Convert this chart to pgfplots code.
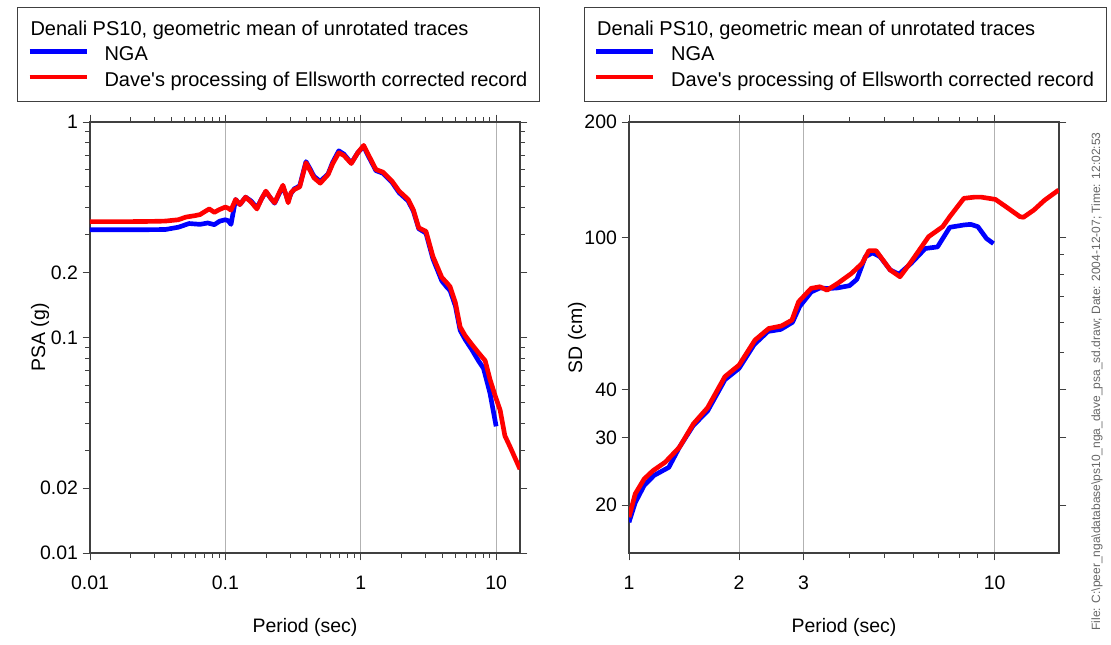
\documentclass[border=0pt]{standalone}
\usepackage{fontspec}
\setmainfont{Liberation Sans}
\usepackage{pgfplots}
\pgfplotsset{compat=1.18}

\newcommand{\fsz}{\fontsize{14.6}{17}\selectfont}
\newcommand{\lfs}{\fontsize{15}{17}\selectfont}
\newcommand{\lst}{\rule[-5pt]{0pt}{13.15pt}}
\definecolor{axgray}{gray}{0.25}
\definecolor{nga}{RGB}{0,0,255}
\definecolor{dave}{RGB}{255,0,0}

\pgfplotsset{
  legend image code/.code={\draw[#1] (0pt,2.5pt) -- (42.75pt,2.5pt);},
  rsframe/.style={
    scale only axis, width=322.5pt, height=323.25pt,
    tick align=outside,
    major tick length=5.5pt, minor tick length=3.5pt,
    every tick/.style={axgray, line width=0.7pt},
    axis line style={axgray, line width=0.9pt},
    xmajorgrids, major grid style={black!30, line width=0.6pt},
    tick label style={font=\fsz},
    xticklabel style={yshift=-8pt},
    label style={font=\fsz},
    xlabel={Period (sec)},
    xlabel style={at={(axis description cs:0.5,-0.172)}, anchor=center},
    legend cell align=left,
    legend style={anchor=north west, draw=axgray, line width=0.8pt,
      font=\lfs, inner xsep=7pt, inner ysep=8pt, row sep=2.9pt,
      column sep=9.75pt},
  },
}

\begin{document}
\begin{tikzpicture}
\useasboundingbox (0,0) rectangle (833.25pt,483pt);

% PSA
\begin{axis}[rsframe, xmode=log, ymode=log,
  at={(67.5pt,68.25pt)}, anchor=south west,
  xmin=0.01, xmax=15, ymin=0.01, ymax=1,
  xtick={0.01,0.1,1,10}, xticklabels={0.01,0.1,1,10},
  ytick={0.01,0.02,0.1,0.2,1}, yticklabels={0.01,0.02,0.1,0.2,1},
  minor ytick={0.03,0.04,0.05,0.06,0.07,0.08,0.09,0.3,0.4,0.5,0.6,0.7,0.8,0.9},
  ylabel={PSA (g)},
  ylabel style={at={(axis description cs:-0.116,0.5)}, anchor=center},
  legend style={at={(axis description cs:-0.169,1.266)}},
]
\addlegendimage{empty legend}
\addlegendentry{\lst\hspace{-55.5pt}Denali PS10, geometric mean of unrotated traces}
\addplot[nga, line width=3.5pt, line join=round] coordinates {
(0.01,0.316) (0.02,0.316) (0.036,0.317) (0.045,0.325) (0.054,0.338)
(0.065,0.335) (0.074,0.340) (0.083,0.334) (0.091,0.347) (0.1,0.352)
(0.105,0.348) (0.11,0.335) (0.119,0.437) (0.128,0.414) (0.141,0.448)
(0.155,0.43) (0.171,0.40) (0.185,0.44) (0.199,0.475) (0.215,0.445)
(0.231,0.42) (0.25,0.465) (0.266,0.50) (0.28,0.46) (0.291,0.43)
(0.305,0.465) (0.323,0.49) (0.354,0.505) (0.394,0.655) (0.42,0.61)
(0.451,0.56) (0.502,0.53) (0.574,0.575) (0.62,0.65) (0.688,0.735)
(0.75,0.71) (0.851,0.645) (0.95,0.72) (1.05,0.77) (1.144,0.69)
(1.294,0.595) (1.46,0.578) (1.70,0.525) (1.92,0.47) (2.24,0.43)
(2.45,0.385) (2.68,0.32) (3.03,0.305) (3.41,0.232) (3.97,0.183)
(4.3,0.172) (4.57,0.165) (5.0,0.14) (5.42,0.108) (5.9,0.098)
(6.6,0.088) (7.4,0.078) (8.06,0.072) (9.0,0.0553) (10,0.0387)
};
\addlegendentry{\lst NGA}
\addplot[dave, line width=3.5pt, line join=round] coordinates {
(0.01,0.345) (0.02,0.345) (0.03,0.346) (0.036,0.347) (0.045,0.352)
(0.051,0.362) (0.06,0.368) (0.065,0.372) (0.071,0.385) (0.076,0.395)
(0.083,0.381) (0.09,0.392) (0.1,0.403) (0.105,0.398) (0.11,0.390)
(0.119,0.437) (0.128,0.414) (0.141,0.448) (0.155,0.425) (0.171,0.395)
(0.185,0.44) (0.199,0.478) (0.215,0.445) (0.231,0.422) (0.25,0.47)
(0.266,0.509) (0.28,0.46) (0.291,0.422) (0.305,0.47) (0.323,0.486)
(0.354,0.5) (0.394,0.647) (0.42,0.60) (0.451,0.551) (0.502,0.52)
(0.574,0.571) (0.62,0.64) (0.688,0.72) (0.75,0.70) (0.851,0.642)
(0.95,0.72) (1.05,0.779) (1.144,0.70) (1.294,0.602) (1.46,0.585)
(1.70,0.532) (1.92,0.478) (2.24,0.437) (2.45,0.39) (2.68,0.323)
(3.03,0.311) (3.41,0.238) (3.97,0.19) (4.3,0.18) (4.57,0.172)
(5.0,0.145) (5.42,0.112) (5.9,0.102) (6.6,0.093) (7.4,0.085)
(8.3,0.078) (9.0,0.064) (9.8,0.054) (10.7,0.046) (11.6,0.035)
(12.7,0.031) (15,0.0245)
};
\addlegendentry{\lst Dave\textquotesingle s processing of Ellsworth corrected record}
\end{axis}

% SD
\begin{axis}[rsframe, xmode=log, ymode=log,
  at={(471.75pt,68.25pt)}, anchor=south west,
  xmin=1, xmax=15, ymin=15, ymax=200,
  xtick={1,2,3,10}, xticklabels={1,2,3,10},
  minor xtick={4,5,6,7,8,9},
  ytick={20,30,40,100,200}, yticklabels={20,30,40,100,200},
  minor ytick={},
  extra y ticks={50,60,70,80,90}, extra y tick labels={},
  extra y tick style={ytick pos=right, major tick length=3.5pt},
  ylabel={SD (cm)},
  ylabel style={at={(axis description cs:-0.121,0.5)}, anchor=center},
  legend style={at={(axis description cs:-0.1046,1.266)}},
]
\addlegendimage{empty legend}
\addlegendentry{\lst\hspace{-55.5pt}Denali PS10, geometric mean of unrotated traces}
\addplot[nga, line width=3.5pt, line join=round] coordinates {
(1.0,18.05) (1.04,20.3) (1.10,22.5) (1.17,23.9) (1.285,25.1)
(1.373,28.3) (1.5,32.3) (1.64,35.2) (1.83,42.5) (2.0,45.5)
(2.2,52.5) (2.4,56.8) (2.6,57.5) (2.8,60) (2.93,66)
(3.15,72) (3.33,73.8) (3.5,73.5) (3.72,73.8) (4.01,74.8)
(4.2,77.7) (4.43,89.0) (4.64,91.1) (4.86,89) (5.18,82.2)
(5.47,80.1) (5.91,85.5) (6.46,93.5) (6.98,94.4) (7.54,106.2)
(8.24,107.7) (8.6,108.1) (9.0,106.6) (9.5,99.3) (9.93,96.3)
};
\addlegendentry{\lst NGA}
\addplot[dave, line width=3.5pt, line join=round] coordinates {
(1.0,18.6) (1.04,21.4) (1.10,23.4) (1.163,24.6) (1.257,25.9)
(1.373,28.3) (1.5,32.6) (1.64,35.9) (1.83,43.3) (2.0,46.4)
(2.21,53.9) (2.41,57.8) (2.61,58.7) (2.79,60.8) (2.91,67.9)
(3.15,73.6) (3.33,74.3) (3.48,72.8) (3.72,75.8) (4.06,80.5)
(4.34,85.5) (4.53,92.3) (4.74,92.3) (5.18,82.2) (5.51,78.9)
(5.91,86.3) (6.6,100.4) (7.21,106.6) (7.54,113.2) (8.24,126.4)
(8.8,127.3) (9.2,127.3) (10.05,125.6) (10.74,120.2) (11.73,113.2)
(11.99,112.8) (12.8,117.8) (13.7,125.0) (14.97,132.9)
};
\addlegendentry{\lst Dave\textquotesingle s processing of Ellsworth corrected record}
\end{axis}

\node[rotate=90, font=\fontsize{9}{10}\selectfont, text=black!60]
  at (822.75pt,196.9pt)
  {File: C:\textbackslash peer\_nga\textbackslash database\textbackslash ps10\_nga\_dave\_psa\_sd.draw; Date: 2004-12-07; Time: 12:02:53};
\end{tikzpicture}
\end{document}
